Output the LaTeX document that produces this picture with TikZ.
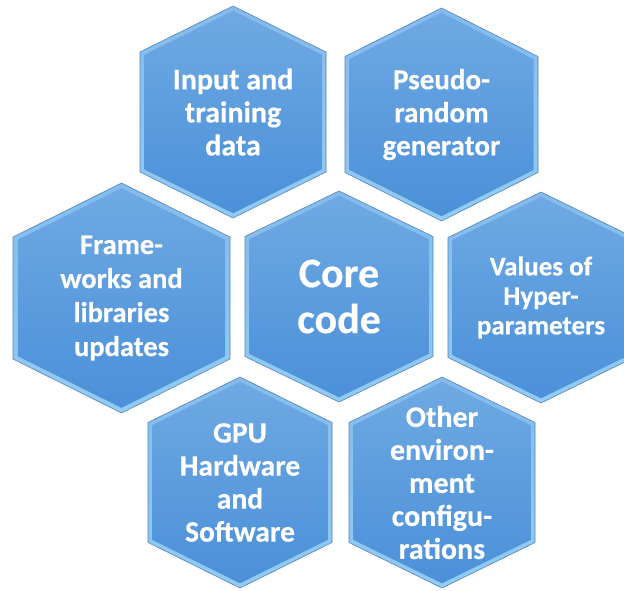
\documentclass[tikz,border=0pt]{standalone}
\usepackage{fontspec}
\setmainfont{Carlito}[BoldFeatures={FakeBold=0.4}]
\definecolor{edgeline}{HTML}{5282B6}
\definecolor{bandtop}{HTML}{84BBEC}
\definecolor{bandbot}{HTML}{92CBF4}
\definecolor{facetop}{HTML}{6EA9E3}
\definecolor{facebot}{HTML}{4B90D9}
\tikzset{
  outerhex/.style={top color=bandtop, bottom color=bandbot, draw=edgeline, line width=0.6pt},
  innerhex/.style={top color=facetop, bottom color=facebot},
  hextext/.style={text=white, align=center, inner sep=0pt, font=\bfseries\fontsize{28}{33}\selectfont}
}
\newcommand\hexcell[8]{%
  \begin{scope}[shift={(#2pt,-#3pt)}]
    \path[outerhex] (0,#5pt) -- (#4pt,#6pt) -- (#4pt,-#6pt) -- (0,-#5pt) -- (-#4pt,-#6pt) -- (-#4pt,#6pt) -- cycle;
    \begin{scope}[scale=0.955]
      \path[innerhex] (0,#5pt) -- (#4pt,#6pt) -- (#4pt,-#6pt) -- (0,-#5pt) -- (-#4pt,-#6pt) -- (-#4pt,#6pt) -- cycle;
    \end{scope}
  \end{scope}
  \node[hextext, font=\bfseries#8] (#1) at (#2pt,-#3pt) {#7};%
}
\begin{document}
\begin{tikzpicture}
\useasboundingbox (0,0) rectangle (624pt,-590pt);
\clip (0,0) rectangle (624pt,-590pt);
\hexcell{inp}{233}{112}{93}{106}{60}{Input and\\training\\data}{\fontsize{30}{33}\selectfont}
\hexcell{pse}{441.5}{114.5}{96.5}{106.5}{58}{Pseudo-\\random\\generator}{\fontsize{29}{33}\selectfont}
\hexcell{frm}{121.5}{298}{108.5}{115}{61}{Frame-\\works and\\libraries\\updates}{\fontsize{28.5}{34}\selectfont}
\hexcell{core}{339}{296.5}{94}{105.5}{60}{Core\\code}{\fontsize{42}{46}\selectfont}
\hexcell{val}{541}{297.5}{93}{105.5}{60}{Values of\\Hyper-\\parameters}{\fontsize{27}{29.5}\selectfont}
\hexcell{gpu}{240}{482.5}{92}{105.5}{60}{GPU\\Hardware\\and\\Software}{\fontsize{29.5}{33}\selectfont}
\hexcell{oth}{442}{482.5}{93}{105.5}{60}{Other\\environ-\\ment\\configu-\\rations}{\fontsize{30}{33}\selectfont}
\end{tikzpicture}
\end{document}
